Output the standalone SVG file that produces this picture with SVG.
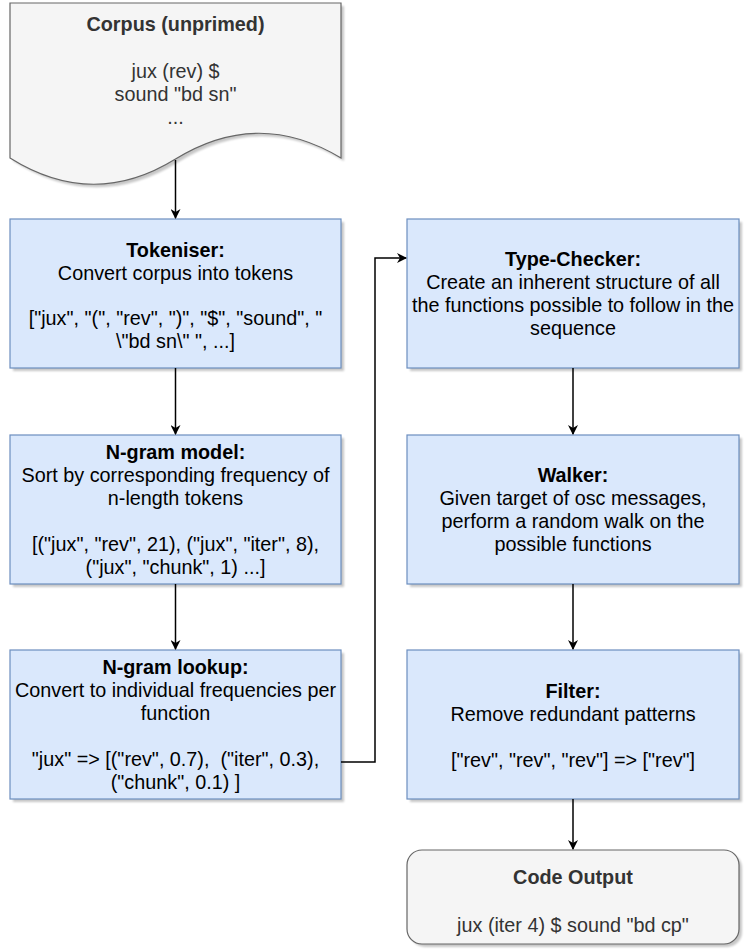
<svg xmlns="http://www.w3.org/2000/svg" width="744" height="951" viewBox="0 0 744 951">
<style>
.t{font-family:"Liberation Sans",Arial,Helvetica,sans-serif;font-size:19.8px;text-anchor:middle;fill:#000}
.g{fill:#333}
.b{font-weight:bold}
.blue{fill:#dae8fc;stroke:#6c8ebf;stroke-width:1.2}
.grey{fill:#f5f5f5;stroke:#666;stroke-width:1.2}
.sh{fill:#000;opacity:0.22}
.c{fill:none;stroke:#000;stroke-width:1.5}
</style>
<defs>
<filter id="blur" x="-5%" y="-5%" width="110%" height="110%"><feGaussianBlur stdDeviation="1"/></filter>
<marker id="arr" viewBox="0 0 10 10" refX="9" refY="5" markerWidth="10" markerHeight="10" markerUnits="userSpaceOnUse" orient="auto"><path d="M0,0 L10,5 L0,10 L3,5 z" fill="#000"/></marker>
</defs>
<rect width="744" height="951" fill="#fff"/>

<g id="corpus">
<path class="sh" filter="url(#blur)" transform="translate(3,3)" d="M10,3 H341 V158 Q258,108 175.5,159 Q93,210 10,158 Z"/>
<path class="grey" d="M10,3 H341 V158 Q258,108 175.5,159 Q93,210 10,158 Z"/>
<text class="t g b" x="175.5" y="31">Corpus (unprimed)</text>
<text class="t g" x="175.5" y="78">jux (rev) $</text>
<text class="t g" x="175.5" y="101">sound "bd sn"</text>
<text class="t g" x="175.5" y="124">...</text>
</g>

<g id="tokeniser">
<rect class="sh" filter="url(#blur)" x="13" y="222" width="331" height="149"/>
<rect class="blue" x="10" y="219" width="331" height="149"/>
<text class="t b" x="175.5" y="257">Tokeniser:</text>
<text class="t" x="175.5" y="280">Convert corpus into tokens</text>
<text class="t" x="175.5" y="325">["jux", "(", "rev", ")", "$", "sound", "</text>
<text class="t" x="175.5" y="348">\"bd sn\" ", ...]</text>
</g>

<g id="ngram-model">
<rect class="sh" filter="url(#blur)" x="13" y="438" width="331" height="149"/>
<rect class="blue" x="10" y="435" width="331" height="149"/>
<text class="t b" x="175.5" y="459">N-gram model:</text>
<text class="t" x="175.5" y="482">Sort by corresponding frequency of</text>
<text class="t" x="175.5" y="505">n-length tokens</text>
<text class="t" x="175.5" y="551">[("jux", "rev", 21), ("jux", "iter", 8),</text>
<text class="t" x="175.5" y="574">("jux", "chunk", 1) ...]</text>
</g>

<g id="ngram-lookup">
<rect class="sh" filter="url(#blur)" x="13" y="653" width="331" height="149"/>
<rect class="blue" x="10" y="650" width="331" height="149"/>
<text class="t b" x="175.5" y="674">N-gram lookup:</text>
<text class="t" x="175.5" y="697">Convert to individual frequencies per</text>
<text class="t" x="175.5" y="720">function</text>
<text class="t" x="175.5" y="766" xml:space="preserve">"jux" =&gt; [("rev", 0.7),  ("iter", 0.3),</text>
<text class="t" x="175.5" y="789">("chunk", 0.1) ]</text>
</g>

<g id="type-checker">
<rect class="sh" filter="url(#blur)" x="410" y="222" width="332" height="149"/>
<rect class="blue" x="407" y="219" width="332" height="149"/>
<text class="t b" x="573" y="266">Type-Checker:</text>
<text class="t" x="573" y="289">Create an inherent structure of all</text>
<text class="t" x="573" y="312">the functions possible to follow in the</text>
<text class="t" x="573" y="335">sequence</text>
</g>

<g id="walker">
<rect class="sh" filter="url(#blur)" x="410" y="438" width="332" height="149"/>
<rect class="blue" x="407" y="435" width="332" height="149"/>
<text class="t b" x="573" y="482">Walker:</text>
<text class="t" x="573" y="505">Given target of osc messages,</text>
<text class="t" x="573" y="528">perform a random walk on the</text>
<text class="t" x="573" y="551">possible functions</text>
</g>

<g id="filter">
<rect class="sh" filter="url(#blur)" x="410" y="653" width="332" height="149"/>
<rect class="blue" x="407" y="650" width="332" height="149"/>
<text class="t b" x="573" y="698">Filter:</text>
<text class="t" x="573" y="721">Remove redundant patterns</text>
<text class="t" x="573" y="767">["rev", "rev", "rev"] =&gt; ["rev"]</text>
</g>

<g id="code-output">
<rect class="sh" filter="url(#blur)" x="410" y="853" width="332" height="94" rx="15"/>
<rect class="grey" x="407" y="850" width="332" height="94" rx="15"/>
<text class="t g b" x="573" y="884">Code Output</text>
<text class="t g" x="573" y="932">jux (iter 4) $ sound "bd cp"</text>
</g>

<g id="connectors">
<path class="c" marker-end="url(#arr)" d="M175.5,160 V218"/>
<path class="c" marker-end="url(#arr)" d="M175.5,368 V434"/>
<path class="c" marker-end="url(#arr)" d="M175.5,584 V649"/>
<path class="c" marker-end="url(#arr)" d="M341,762 H375 V258 H406"/>
<path class="c" marker-end="url(#arr)" d="M573,368 V434"/>
<path class="c" marker-end="url(#arr)" d="M573,584 V649"/>
<path class="c" marker-end="url(#arr)" d="M573,799 V849"/>
</g>
</svg>
